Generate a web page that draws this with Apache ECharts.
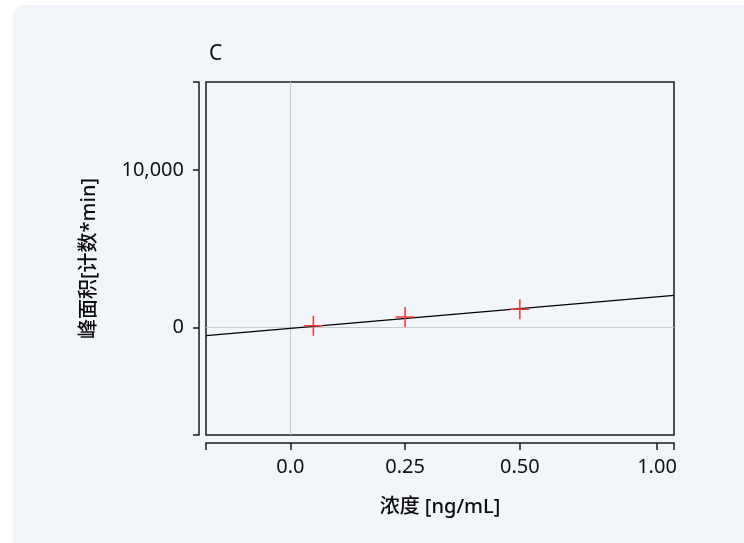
<!DOCTYPE html>
<html>
<head>
<meta charset="utf-8">
<script src="https://cdn.jsdelivr.net/npm/echarts@6/dist/echarts.min.js"></script>
<style>
html,body{margin:0;padding:0;background:#ffffff;width:744px;height:543px;overflow:hidden;}
#card{position:absolute;left:13px;top:5px;width:760px;height:560px;background:#f2f5f9;border-radius:12px;}
#chart{position:absolute;left:0;top:0;width:744px;height:543px;}
</style>
</head>
<body>
<div id="card"></div>
<div id="chart"></div>
<script>
// Data
const concentrations = [0.05, 0.25, 0.5];
const peakAreas = [127, 678, 1167];
const fitX = [-0.184, 0.836];
const fitY = [-507, 2055];
const xMin = -0.184, xMax = 0.836;
const yMin = -6804, yMax = 15580;
const xTickValues = [0, 0.25, 0.5, 0.799];
const xTickLabels = ['0.0', '0.25', '0.50', '1.00'];
const yTickValues = [0, 10000];
const yTickLabels = ['0', '10,000'];

const font = '"Noto Sans", "Noto Sans CJK SC", sans-serif';
const chart = echarts.init(document.getElementById('chart'), null, {renderer: 'canvas'});

const option = {
  backgroundColor: 'transparent',
  animation: false,
  title: {
    text: 'C', left: 204, top: 39,
    textStyle: {fontFamily: font, fontSize: 21, fontWeight: 'normal', color: '#111'}
  },
  grid: {
    left: 206, right: 70, top: 82, bottom: 108,
    show: true, borderColor: '#1a1a1a', borderWidth: 1.5, backgroundColor: 'transparent'
  },
  xAxis: {
    type: 'value', min: xMin, max: xMax, offset: 8,
    name: '浓度 [ng/mL]', nameLocation: 'middle', nameGap: 54,
    nameTextStyle: {fontFamily: font, fontSize: 20, color: '#0a0a0a', fontWeight: 500},
    axisLine: {show: true, onZero: false, lineStyle: {color: '#1a1a1a', width: 1.5}},
    axisTick: {show: true, length: 7, customValues: [xMin].concat(xTickValues, [xMax]), lineStyle: {color: '#1a1a1a', width: 1.5}},
    axisLabel: {
      customValues: xTickValues, margin: 14,
      fontFamily: font, fontSize: 20, color: '#111',
      formatter: function (v) {
        const i = xTickValues.findIndex(t => Math.abs(t - v) < 1e-6);
        return i >= 0 ? xTickLabels[i] : '';
      }
    },
    splitLine: {show: false}
  },
  yAxis: {
    type: 'value', min: yMin, max: yMax, offset: 7,
    name: '峰面积[计数*min]', nameLocation: 'middle', nameGap: 100,
    nameTextStyle: {fontFamily: font, fontSize: 20, color: '#0a0a0a', fontWeight: 500},
    axisLine: {show: true, onZero: false, lineStyle: {color: '#1a1a1a', width: 1.5}},
    axisTick: {show: true, length: 6, customValues: [yMin].concat(yTickValues, [yMax]), lineStyle: {color: '#1a1a1a', width: 1.5}},
    axisLabel: {
      customValues: yTickValues, margin: 15,
      fontFamily: font, fontSize: 20, color: '#111',
      formatter: function (v) {
        const i = yTickValues.findIndex(t => Math.abs(t - v) < 1e-6);
        return i >= 0 ? yTickLabels[i] : '';
      }
    },
    splitLine: {show: false}
  },
  series: [
    {
      type: 'line',
      data: fitX.map((x, i) => [x, fitY[i]]),
      showSymbol: false, symbol: 'none',
      lineStyle: {color: '#000', width: 1.3},
      z: 3,
      markLine: {
        silent: true, symbol: 'none', label: {show: false},
        lineStyle: {color: '#c8cbd0', width: 1.2, type: 'solid'},
        data: [{xAxis: 0}, {yAxis: 0}],
        z: 1
      }
    },
    {
      type: 'scatter',
      data: concentrations.map((x, i) => [x, peakAreas[i]]),
      symbol: 'path://M0,9.2 L20,9.2 L20,10.8 L0,10.8 Z M9.2,0 L10.8,0 L10.8,20 L9.2,20 Z',
      symbolSize: [19, 20],
      itemStyle: {color: '#f23a3a', opacity: 1},
      z: 4
    }
  ]
};
chart.setOption(option);
</script>
</body>
</html>
